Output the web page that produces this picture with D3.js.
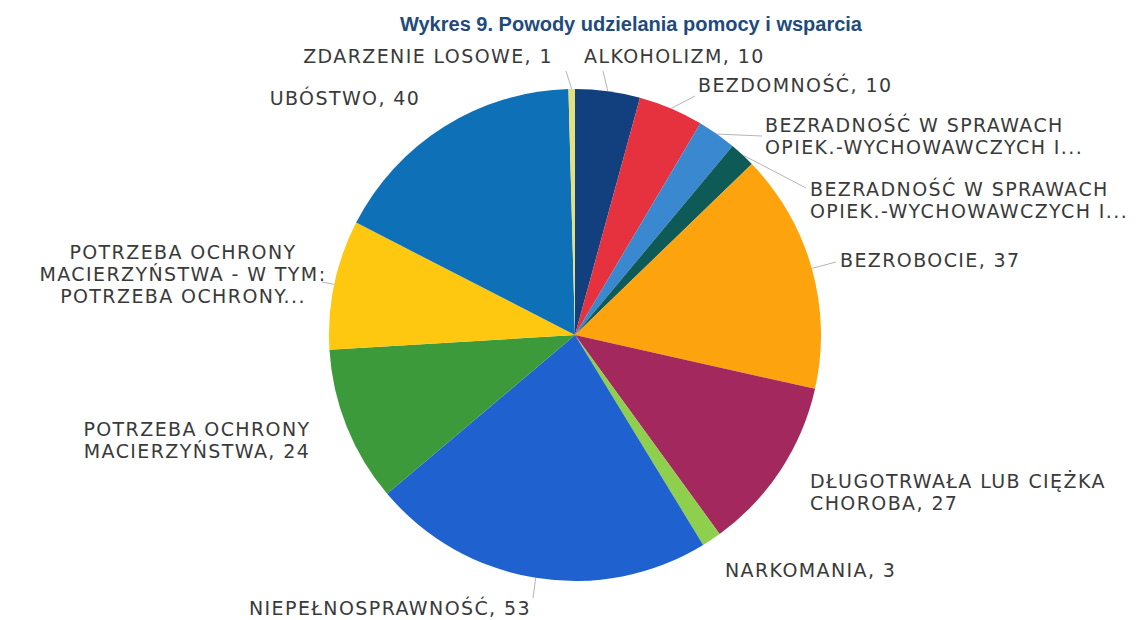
<!DOCTYPE html>
<html>
<head>
<meta charset="utf-8">
<script src="https://cdn.jsdelivr.net/npm/d3@7"></script>
<style>
  body { margin: 0; background: #fff; }
  #chart text { font-family: "DejaVu Sans", sans-serif; }
</style>
</head>
<body>
<div id="chart"></div>
<script>
// data (clockwise from 12 o'clock)
var names = [
    ["ALKOHOLIZM"],
    ["BEZDOMNOŚĆ"],
    ["BEZRADNOŚĆ W SPRAWACH", "OPIEK.-WYCHOWAWCZYCH I..."],
    ["BEZRADNOŚĆ W SPRAWACH", "OPIEK.-WYCHOWAWCZYCH I..."],
    ["BEZROBOCIE"],
    ["DŁUGOTRWAŁA LUB CIĘŻKA", "CHOROBA"],
    ["NARKOMANIA"],
    ["NIEPEŁNOSPRAWNOŚĆ"],
    ["POTRZEBA OCHRONY", "MACIERZYŃSTWA"],
    ["POTRZEBA OCHRONY", "MACIERZYŃSTWA - W TYM:", "POTRZEBA OCHRONY..."],
    ["UBÓSTWO"],
    ["ZDARZENIE LOSOWE"]
]
var values = [10, 10, 6, 4, 37, 27, 3, 53, 24, 20, 40, 1]
// labels cut off by the chart tool (no value shown)
var truncated = [false, false, true, true, false, false, false, false, false, true, false, false]
var colors = ["#123f7e", "#e6323e", "#3a88d0", "#0d5a56", "#fca30e", "#a3285d",
    "#8ed04d", "#1f62cf", "#3c9a3b", "#fdc80f", "#0e70b6", "#e4e07c"]

// label placement: x, baseline y, anchor, leader end (or null)
var labelLayout = [
    { x: 584, y: 63, anchor: "start", leader: [603, 71] },
    { x: 698, y: 92, anchor: "start", leader: [695, 96] },
    { x: 765, y: 132, anchor: "start", leader: [762, 136] },
    { x: 810, y: 196, anchor: "start", leader: [806, 188] },
    { x: 840, y: 267, anchor: "start", leader: [836, 262] },
    { x: 810, y: 488, anchor: "start", leader: null },
    { x: 725, y: 577, anchor: "start", leader: null },
    { x: 390, y: 615, anchor: "middle", leader: [533, 598] },
    { x: 197, y: 436, anchor: "middle", leader: null },
    { x: 183, y: 259, anchor: "middle", leader: [322, 282] },
    { x: 345, y: 105, anchor: "middle", leader: null },
    { x: 553, y: 63, anchor: "end", leader: [566, 71] }
]

var width = 1137, height = 620
var cx = 575, cy = 335, radius = 246
var lineH = 22

var svg = d3.select("#chart").append("svg")
    .attr("width", width)
    .attr("height", height)

svg.append("text")
    .attr("x", 631)
    .attr("y", 31)
    .attr("text-anchor", "middle")
    .style("font-family", "'Liberation Sans', Arial, sans-serif")
    .style("font-weight", "bold")
    .style("font-size", "20px")
    .attr("fill", "#1f4b7c")
    .text("Wykres 9. Powody udzielania pomocy i wsparcia")

var pie = d3.pie()
    .sort(null)
    .value(function (d) { return d })

var pieData = pie(values)

var arc = d3.arc()
    .innerRadius(0)
    .outerRadius(radius)

var edgeArc = d3.arc()
    .innerRadius(radius)
    .outerRadius(radius)

var g = svg.append("g")
    .attr("transform", "translate(" + cx + "," + cy + ")")

g.selectAll("path")
    .data(pieData)
    .enter()
    .append("path")
    .attr("d", arc)
    .attr("fill", function (d, i) { return colors[i] })

// leader lines
svg.selectAll("line.leader")
    .data(pieData.filter(function (d, i) { return labelLayout[i].leader }))
    .enter()
    .append("line")
    .attr("class", "leader")
    .attr("x1", function (d) { return cx + edgeArc.centroid(d)[0] })
    .attr("y1", function (d) { return cy + edgeArc.centroid(d)[1] })
    .attr("x2", function (d) { return labelLayout[d.index].leader[0] })
    .attr("y2", function (d) { return labelLayout[d.index].leader[1] })
    .attr("stroke", "#b5b5b5")
    .attr("stroke-width", 1)

// data labels
var labels = svg.selectAll("text.lab")
    .data(pieData)
    .enter()
    .append("text")
    .attr("class", "lab")
    .attr("x", function (d, i) { return labelLayout[i].x })
    .attr("y", function (d, i) { return labelLayout[i].y })
    .attr("text-anchor", function (d, i) { return labelLayout[i].anchor })
    .attr("fill", "#3a3a3a")
    .style("font-size", "19px")
    .style("letter-spacing", "1.4px")

labels.each(function (d, i) {
    var lines = names[i].slice()
    if (!truncated[i]) {
        lines[lines.length - 1] = lines[lines.length - 1] + ", " + values[i]
    }
    var t = d3.select(this)
    lines.forEach(function (line, k) {
        t.append("tspan")
            .attr("x", labelLayout[i].x)
            .attr("dy", k == 0 ? 0 : lineH)
            .text(line)
    })
})
</script>
</body>
</html>
